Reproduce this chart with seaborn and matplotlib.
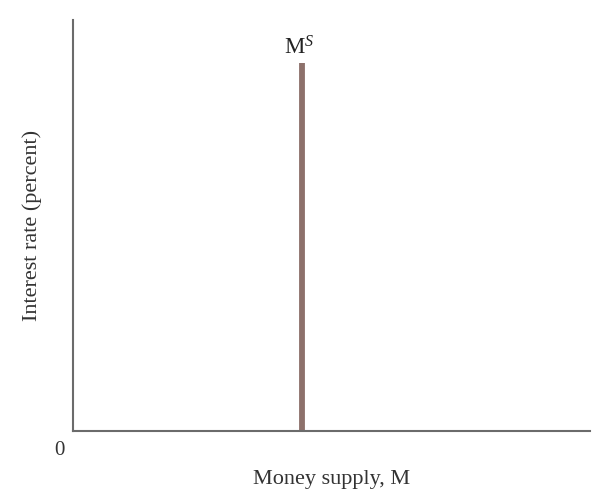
import matplotlib
matplotlib.use("Agg")
import matplotlib.pyplot as plt
import seaborn as sns
import pandas as pd

# Data
supply_x = [44.3, 44.3]
supply_y = [0, 89.5]
curve_label = "M$^{S}$"
x_label = "Money supply, M"
y_label = "Interest rate (percent)"
origin_label = "0"

sns.set_theme(style="white")
plt.rcParams['font.family'] = ['Liberation Serif', 'DejaVu Serif']
plt.rcParams['mathtext.fontset'] = 'custom'
plt.rcParams['mathtext.rm'] = 'Liberation Serif'
plt.rcParams['mathtext.it'] = 'Liberation Serif:italic'

fig = plt.figure(figsize=(6.0, 5.03), dpi=100)
ax = fig.add_axes([0.1217, 0.143, 0.8617, 0.817])

df = pd.DataFrame({"x": supply_x, "y": supply_y})
sns.lineplot(data=df, x="x", y="y", ax=ax, color="#8d716b", linewidth=4.2,
             estimator=None, sort=False, solid_capstyle="butt")

ax.set_xlim(0, 100)
ax.set_ylim(0, 100)
ax.set_xticks([])
ax.set_yticks([])
for s in ["top", "right"]:
    ax.spines[s].set_visible(False)
for s in ["left", "bottom"]:
    ax.spines[s].set_color("#6b6b6b")
    ax.spines[s].set_linewidth(1.5)

ax.set_xlabel(x_label, fontsize=16, color="#333333", labelpad=28)
ax.set_ylabel(y_label, fontsize=16, color="#333333", labelpad=22)

ax.text(supply_x[1] - 0.6, supply_y[1] + 1.0, curve_label, fontsize=16.5,
        color="#222222", ha="center", va="bottom")
ax.text(-1.6, -2.5, origin_label, fontsize=15, color="#333333",
        ha="right", va="top")

fig.savefig("out.png", dpi=100)
